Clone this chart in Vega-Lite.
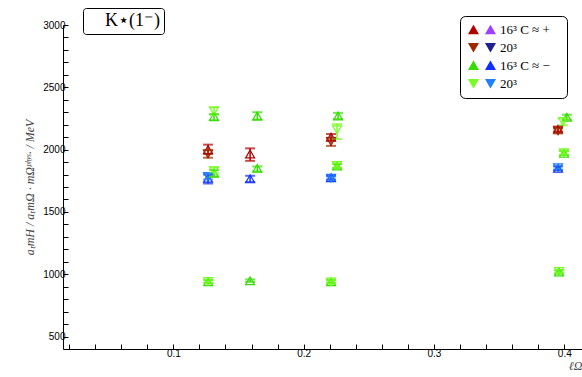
{
  "$schema": "https://vega.github.io/schema/vega-lite/v6.json",
  "width": 519,
  "height": 324,
  "autosize": {"type": "none"},
  "padding": {"left": 63, "top": 25, "right": 0, "bottom": 28},
  "config": {
    "font": "Liberation Sans",
    "view": {"stroke": null},
    "axis": {"domainColor": "black", "tickColor": "black", "labelColor": "black", "grid": false, "labelFontSize": 10, "domainWidth": 1},
    "legend": {"symbolBaseFillColor": "transparent"}
  },
  "data": {
    "values": [
      {"x": 0.1266, "y": 2000, "lo": 1965, "hi": 2040, "key": "r16p"},
      {"x": 0.1266, "y": 1965, "lo": 1935, "hi": 1995, "key": "r20p"},
      {"x": 0.1266, "y": 1770, "lo": 1728, "hi": 1800, "key": "b16m"},
      {"x": 0.1266, "y": 1785, "lo": 1760, "hi": 1805, "key": "b20m"},
      {"x": 0.1312, "y": 1810, "lo": 1785, "hi": 1835, "key": "g16m"},
      {"x": 0.1312, "y": 1830, "lo": 1810, "hi": 1855, "key": "g20m"},
      {"x": 0.1312, "y": 2265, "lo": 2235, "hi": 2285, "key": "g16m"},
      {"x": 0.1312, "y": 2310, "lo": 2280, "hi": 2340, "key": "g20m"},
      {"x": 0.1268, "y": 940, "lo": 928, "hi": 952, "key": "g16m"},
      {"x": 0.1268, "y": 942, "lo": 930, "hi": 955, "key": "g20m"},
      {"x": 0.1589, "y": 1965, "lo": 1910, "hi": 2010, "key": "r16p"},
      {"x": 0.1589, "y": 1765, "lo": 1740, "hi": 1790, "key": "b16m"},
      {"x": 0.1644, "y": 2270, "lo": 2240, "hi": 2300, "key": "g16m"},
      {"x": 0.1644, "y": 1850, "lo": 1825, "hi": 1865, "key": "g16m"},
      {"x": 0.1589, "y": 948, "lo": 938, "hi": 958, "key": "g16m"},
      {"x": 0.2264, "y": 2270, "lo": 2245, "hi": 2295, "key": "g16m"},
      {"x": 0.2256, "y": 2160, "lo": 2085, "hi": 2205, "key": "g20m"},
      {"x": 0.221, "y": 2100, "lo": 2075, "hi": 2125, "key": "r16p"},
      {"x": 0.221, "y": 2065, "lo": 2030, "hi": 2095, "key": "r20p"},
      {"x": 0.2256, "y": 1868, "lo": 1850, "hi": 1885, "key": "g16m"},
      {"x": 0.2256, "y": 1872, "lo": 1855, "hi": 1890, "key": "g20m"},
      {"x": 0.221, "y": 1775, "lo": 1760, "hi": 1790, "key": "b16m"},
      {"x": 0.221, "y": 1770, "lo": 1755, "hi": 1785, "key": "b20m"},
      {"x": 0.221, "y": 940, "lo": 928, "hi": 952, "key": "g16m"},
      {"x": 0.221, "y": 938, "lo": 926, "hi": 950, "key": "g20m"},
      {"x": 0.402, "y": 2260, "lo": 2240, "hi": 2280, "key": "g16m"},
      {"x": 0.399, "y": 2225, "lo": 2195, "hi": 2250, "key": "g20m"},
      {"x": 0.3952, "y": 2165, "lo": 2145, "hi": 2185, "key": "r16p"},
      {"x": 0.3952, "y": 2150, "lo": 2130, "hi": 2170, "key": "r20p"},
      {"x": 0.3998, "y": 1970, "lo": 1955, "hi": 1990, "key": "g16m"},
      {"x": 0.3998, "y": 1975, "lo": 1960, "hi": 1990, "key": "g20m"},
      {"x": 0.3952, "y": 1850, "lo": 1835, "hi": 1865, "key": "b16m"},
      {"x": 0.3952, "y": 1855, "lo": 1840, "hi": 1870, "key": "b20m"},
      {"x": 0.396, "y": 1018, "lo": 1005, "hi": 1030, "key": "g16m"},
      {"x": 0.396, "y": 1022, "lo": 1010, "hi": 1035, "key": "g20m"}
    ]
  },
  "encoding": {
    "x": {
      "field": "x", "type": "quantitative",
      "scale": {"domain": [0.0153, 0.4136], "nice": false, "zero": false},
      "axis": {
        "values": [0.02, 0.04, 0.06, 0.08, 0.1, 0.12, 0.14, 0.16, 0.18, 0.2, 0.22, 0.24, 0.26, 0.28, 0.3, 0.32, 0.34, 0.36, 0.38, 0.4],
        "labelExpr": "abs(datum.value*10 - round(datum.value*10)) < 0.001 ? format(datum.value, '.1f') : ''",
        "tickSize": -5,
        "labelPadding": 4,
        "title": "ℓΩ",
        "titleFont": "Liberation Serif",
        "titleFontStyle": "italic",
        "titleFontWeight": "normal",
        "titleFontSize": 12,
        "titleColor": "#444",
        "titleAnchor": "end",
        "titleAlign": "right",
        "titlePadding": 2
      }
    },
    "y": {
      "field": "y", "type": "quantitative",
      "scale": {"domain": [400, 3000], "nice": false, "zero": false},
      "axis": {
        "values": [500, 600, 700, 800, 900, 1000, 1100, 1200, 1300, 1400, 1500, 1600, 1700, 1800, 1900, 2000, 2100, 2200, 2300, 2400, 2500, 2600, 2700, 2800, 2900, 3000],
        "labelExpr": "datum.value % 500 === 0 ? '' + datum.value : ''",
        "tickSize": -5,
        "labelPadding": 3,
        "title": "aₜmH / aₜmΩ · mΩᵖʰʸˢ· / MeV",
        "titleFont": "Liberation Serif",
        "titleFontStyle": "italic",
        "titleFontWeight": "normal",
        "titleFontSize": 12,
        "titleColor": "#444",
        "titlePadding": 6
      }
    }
  },
  "layer": [
    {
      "mark": {"type": "point", "filled": false, "fill": "white", "fillOpacity": 0, "size": 80, "strokeWidth": 1.2},
      "encoding": {
        "stroke": {
          "field": "key", "type": "nominal",
          "scale": {
            "domain": ["r16p", "r20p", "g16m", "g20m", "p16p", "n20p", "b16m", "b20m"],
            "range": ["#B00000", "#A02800", "#33DD00", "#77FF22", "#A040FF", "#202090", "#1030FF", "#2080FF"]
          },
          "legend": {
            "title": null,
            "orient": "none",
            "legendX": 397,
            "legendY": -9,
            "columns": 2,
            "columnPadding": 0,
            "rowPadding": 4,
            "symbolSize": 80,
            "symbolStrokeWidth": 1.2,
            "symbolFillColor": "white",
            "labelOffset": 3,
            "labelFont": "Liberation Serif",
            "labelFontSize": 13,
            "labelColor": "black",
            "labelExpr": "datum.value === 'p16p' ? '16³    C ≈ +' : datum.value === 'n20p' ? '20³' : datum.value === 'b16m' ? '16³    C ≈ −' : datum.value === 'b20m' ? '20³' : ''",
            "strokeColor": "black",
            "fillColor": "white",
            "cornerRadius": 5,
            "padding": 7
          }
        },
        "shape": {
          "field": "key", "type": "nominal",
          "scale": {
            "domain": ["r16p", "r20p", "g16m", "g20m", "p16p", "n20p", "b16m", "b20m"],
            "range": ["triangle-up", "triangle-down", "triangle-up", "triangle-down", "triangle-up", "triangle-down", "triangle-up", "triangle-down"]
          }
        },
        "opacity": {
          "datum": "K⋆(1⁻)", "type": "nominal",
          "scale": {"range": [1, 1]},
          "legend": {
            "title": null,
            "orient": "none",
            "legendX": 20,
            "legendY": -17,
            "symbolSize": 0,
            "symbolStrokeWidth": 0,
            "symbolOpacity": 0,
            "labelOffset": 0,
            "labelFont": "Liberation Serif",
            "labelFontSize": 18,
            "labelColor": "black",
            "strokeColor": "black",
            "fillColor": "white",
            "cornerRadius": 3,
            "padding": 4
          }
        }
      }
    },
    {
      "mark": {"type": "rule", "strokeWidth": 1.5},
      "encoding": {
        "y": {"field": "lo", "type": "quantitative"},
        "y2": {"field": "hi"},
        "stroke": {"field": "key", "type": "nominal"}
      }
    },
    {
      "mark": {"type": "tick", "orient": "horizontal", "size": 10, "thickness": 2},
      "encoding": {
        "y": {"field": "lo", "type": "quantitative"},
        "fill": {
          "field": "key", "type": "nominal", "legend": null,
          "scale": {
            "domain": ["r16p", "r20p", "g16m", "g20m", "p16p", "n20p", "b16m", "b20m"],
            "range": ["#B00000", "#A02800", "#33DD00", "#77FF22", "#A040FF", "#202090", "#1030FF", "#2080FF"]
          }
        }
      }
    },
    {
      "mark": {"type": "tick", "orient": "horizontal", "size": 10, "thickness": 2},
      "encoding": {
        "y": {"field": "hi", "type": "quantitative"},
        "fill": {"field": "key", "type": "nominal", "legend": null}
      }
    }
  ]
}
